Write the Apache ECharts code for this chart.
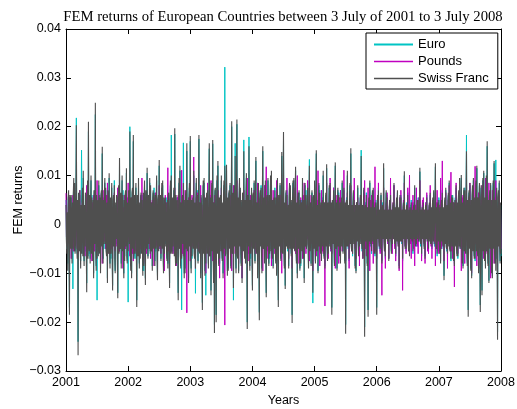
<!DOCTYPE html>
<html><head><meta charset="utf-8">
<script src="https://cdn.jsdelivr.net/npm/echarts@6/dist/echarts.min.js"></script>
<style>html,body{margin:0;padding:0;background:#fff}#c{width:517px;height:409px}</style>
</head><body><div id="c"></div>
<script>
// daily returns in units of 0.0001, 1009 samples spread evenly from 2001 to 2008
const euroBp = [
50,-30,-50,20,-80,50,60,-35,-170,55,40,-45,55,-25,-70,40,-132,60,80,-50,75,-55,-50,65,218,-40,-60,45,-240,60,40,-50,60,-40,-75,35,152,45,65,-60,
95,-45,-75,35,-55,60,55,-50,-120,40,80,-65,190,-35,-60,55,-70,30,90,-55,60,-40,-65,45,-100,65,70,-35,225,-50,-85,55,-155,40,45,-60,80,-40,-55,50,
-90,55,65,-40,145,-55,-70,45,-50,60,85,-35,70,-50,-60,40,-110,65,50,-55,95,-45,-80,50,-70,35,75,-60,-125,45,55,-40,90,-65,-95,40,-40,55,50,-65,
-140,50,70,-55,125,-45,-50,60,-80,35,90,-50,70,-65,-100,45,-65,55,65,-40,105,-60,-75,40,-159,65,55,-35,200,-55,-85,50,-100,60,70,-45,170,-65,-55,55,
-70,45,75,-40,-155,55,50,-60,85,-45,-80,40,-60,50,60,-55,60,-35,-95,60,-95,45,80,-50,-110,65,50,-45,105,-40,-65,55,-50,40,85,-55,70,-45,-50,40,
-85,50,65,-45,75,-35,-75,55,-55,40,90,-60,-105,45,55,-50,120,-40,-50,55,-70,40,75,-45,80,-55,-90,50,-65,35,50,-40,55,-50,-70,45,-80,55,60,-40,
-120,45,80,-55,183,-40,-55,50,-55,35,70,-60,185,-50,-80,55,-75,40,55,-55,-140,50,85,-45,110,-60,-85,40,-175,50,55,-35,167,-50,-100,45,-90,55,65,-45,
150,-50,-50,45,-110,55,75,-40,170,-60,-90,45,-70,35,50,-45,100,-55,-65,40,-141,50,85,-45,70,-35,-75,60,175,-50,-55,40,-100,55,45,-50,-160,45,80,-55,
85,-45,-95,50,-145,40,60,-55,75,-35,-80,45,155,-60,-55,50,-135,55,80,-50,165,-55,-110,40,-205,65,70,-45,-185,50,90,-55,120,-40,-80,50,-80,45,55,-50,
90,-50,-70,40,-100,55,80,-45,322,-60,-55,45,110,-40,-95,50,-90,55,65,-45,80,-50,-85,40,200,-55,-60,60,-155,45,75,-40,166,-50,-90,55,205,-60,-65,50,
-95,50,85,-40,70,-55,-80,45,-110,60,55,-50,173,-40,-65,45,-75,55,95,-50,-200,55,55,-40,179,-60,-85,45,-70,40,70,-50,-125,55,60,-45,85,-40,-75,50,
130,-45,-55,40,-100,50,80,-55,-180,45,65,-40,80,-50,-90,55,150,-45,-50,50,-75,40,80,-55,-140,50,55,-40,90,-45,-80,55,-70,40,90,-50,100,-55,-65,45,
-85,40,50,-45,75,-40,-75,50,-100,45,85,-50,-155,55,45,-40,80,-45,-70,40,140,-50,-55,45,175,-55,-85,40,-125,50,65,-40,70,-45,-55,35,-85,50,80,-45,
75,-40,-60,45,-185,50,85,-45,90,-40,-50,55,110,-45,-75,40,-100,50,60,-45,65,-40,-90,45,-85,35,50,-50,90,-40,-65,45,-110,50,80,-40,70,-45,-45,40,
70,-40,-85,45,133,-50,-50,40,-80,45,65,-35,-161,50,55,-45,85,-40,-75,45,145,-50,-50,35,-95,45,80,-40,70,-45,-55,40,-70,35,55,-40,100,-45,-65,40,
-85,35,60,-40,115,-45,-70,40,-65,35,75,-40,80,-35,-55,40,-170,45,50,-35,75,-40,-80,35,120,-45,-45,40,-90,35,70,-40,65,-35,-60,40,-75,35,50,-40,
85,-35,-55,40,70,-35,-75,40,-205,35,55,-40,100,-35,-50,35,-75,40,80,-35,145,-40,-50,35,-65,40,65,-35,55,-30,-85,35,-95,40,45,-30,75,-35,-60,35,
-50,30,55,-35,152,-30,-55,35,-65,30,70,-35,-210,30,45,-30,65,-35,-80,30,-175,35,50,-30,85,-35,-45,30,-60,35,65,-30,70,-35,-55,30,-65,35,50,-30,
-170,30,55,-25,75,-30,-50,25,-55,30,60,-25,-75,30,45,-25,115,-30,-50,25,-70,30,65,-25,60,-30,-40,25,-70,30,45,-25,65,-30,-55,25,-45,30,40,-25,
80,-25,-45,30,-65,25,50,-30,65,-25,-40,30,-85,25,55,-30,60,-25,-40,25,-75,30,50,-25,100,-30,-45,25,-55,30,45,-25,65,-30,-50,25,-60,30,40,-25,
50,-25,-40,25,-60,30,45,-25,75,-30,-40,25,-45,30,45,-25,55,-30,-35,25,108,-30,-45,25,-65,30,40,-25,50,-30,-45,25,-65,30,45,-25,60,-30,-40,25,
-55,30,40,-30,60,-35,-40,30,-50,35,50,-30,65,-35,-45,30,118,-35,-45,30,-65,35,50,-30,55,-35,-55,30,-75,35,45,-30,70,-35,-50,30,-105,35,50,-35,
70,-40,-55,35,-65,45,60,-40,85,-45,-50,40,-75,45,55,-40,60,-45,-70,40,-80,45,55,-40,75,-45,-60,40,-70,45,65,-40,90,-45,-50,40,95,-45,-75,40,
-85,45,70,-50,75,-45,-55,50,183,-55,-80,45,-175,50,65,-45,80,-50,-90,45,-105,55,75,-50,90,-45,-65,50,-75,45,85,-50,115,-45,-60,50,-95,45,80,-50,
-165,50,75,-45,-135,55,90,-50,105,-45,-70,50,-85,45,95,-50,160,-55,-80,45,-115,50,65,-45,80,-50,-95,45,-105,50,85,-45,125,-50,-75,45,132,-50,-70,45,
-220,50,65,-40,85,-45,-75,40,-65];
const poundsBp = [
64,-25,-30,20,-40,30,50,-25,55,-30,-45,25,-70,30,35,-25,60,-30,-55,25,-35,30,40,-25,45,-30,-50,25,-60,30,30,-25,70,-30,-40,25,-50,30,45,-25,
40,-25,-50,30,-65,25,35,-30,80,-25,-60,30,-45,25,55,-30,55,-25,-35,30,-75,25,45,-30,60,-25,-55,30,-40,25,40,-30,90,-25,-45,30,-55,25,60,-30,
45,-25,-40,30,-80,25,55,-30,70,-25,-35,30,-50,25,60,-30,85,-25,-45,30,-60,25,30,-30,40,-25,-50,30,-70,25,45,-30,65,-25,-55,30,-45,25,35,-30,
75,-25,-40,30,-55,25,60,-30,50,-25,-45,30,-90,25,35,-30,60,-25,-50,30,-40,25,55,-30,85,-25,-35,30,-65,25,45,-30,55,-25,-60,30,-75,25,40,-30,
45,-25,-55,30,-60,25,40,-30,70,-25,-45,30,-50,25,60,-30,95,-25,-35,30,-80,25,50,-30,55,-25,-60,30,-45,25,35,-30,60,-25,-50,30,-70,25,45,-30,
50,-25,-40,30,-85,25,55,-30,65,-25,-45,30,-55,25,40,-30,80,-25,-50,30,-60,25,35,-30,40,-25,-45,30,-95,25,60,-30,45,-25,-35,30,116,-25,-55,30,
-70,25,40,-30,55,-25,-45,30,-60,25,50,-30,75,-25,-35,30,-85,25,55,-30,60,-25,-40,30,-50,25,45,-30,111,-25,-60,30,-65,25,35,-30,70,-25,-50,30,
-181,25,45,-30,55,-25,-40,30,-75,25,50,-30,60,-25,-45,30,138,-25,-35,30,-90,25,55,-30,65,-25,-40,30,-55,25,45,-30,80,-25,-50,30,-70,25,40,-30,
60,-25,-45,30,-100,25,50,-30,85,-25,-35,30,-65,25,60,-30,90,-25,-40,30,-75,25,45,-30,60,-25,-55,30,-80,25,35,-30,70,-25,-45,30,-110,25,50,-30,
75,-25,-40,30,-60,25,55,-30,-206,25,45,-30,85,-25,-50,30,-70,25,35,-30,60,-25,-45,30,-95,25,60,-30,80,-25,-35,30,-60,25,50,-30,90,-25,-45,30,
-80,25,40,-30,65,-25,-50,30,-110,25,55,-30,70,-25,-35,30,-55,25,45,-30,95,-25,-60,30,-75,25,40,-30,60,-25,-45,30,-90,25,50,-30,70,-25,-40,30,
-60,25,45,-30,85,-25,-40,30,-75,25,55,-30,60,-25,-50,30,-95,25,35,-30,80,-25,-45,30,118,-25,-55,30,-70,25,40,-30,55,-25,-35,30,-85,25,50,-30,
70,-25,-45,30,-60,25,40,-30,90,-25,-50,30,-75,25,55,-30,60,-25,-35,30,-100,25,45,-30,80,-25,-60,30,-55,25,40,-30,95,-25,-45,30,-70,25,50,-30,
65,-25,-40,30,-90,25,55,-30,75,-25,-45,30,-60,25,35,-30,100,-25,-50,30,-80,25,40,-30,55,-25,-35,30,-70,25,60,-30,85,-25,-45,30,-60,25,40,-30,
90,-25,-50,30,-75,25,45,-30,60,-25,-40,30,-95,25,55,-30,80,-25,-35,30,-65,25,50,-30,110,-25,-45,30,-85,25,40,-30,70,-25,-55,30,-60,25,45,-30,
-167,25,40,-30,85,-25,-50,30,-70,25,45,-30,95,-25,-55,30,-60,25,35,-30,75,-25,-40,30,-90,25,50,-30,60,-25,-45,30,-80,25,55,-30,70,-25,-35,30,
-55,25,45,-30,111,-25,-40,30,-75,25,50,-30,65,-25,-45,30,-90,25,35,-30,80,-25,-55,30,-60,25,40,-30,95,-25,-50,30,-70,25,45,-30,55,-25,-35,30,
-85,25,45,-30,60,-25,-40,30,-70,25,55,-30,90,-25,-50,30,-65,25,35,-30,75,-25,-45,30,-95,25,50,-30,60,-25,-40,30,-80,25,45,-30,118,-25,-55,30,
-70,25,40,-30,85,-25,-45,30,-60,25,50,-30,-145,25,35,-30,75,-25,-55,30,-90,25,45,-30,65,-25,-40,30,-70,25,50,-30,95,-25,-35,30,-60,25,45,-30,
80,-25,-50,30,-75,25,40,-30,60,-25,-45,30,-95,25,55,-30,70,-25,-35,30,-135,25,50,-30,85,-25,-45,30,-60,25,40,-30,75,-25,-55,30,101,-25,-40,30,
-70,25,45,-30,60,-25,-50,30,-85,25,40,-30,75,-25,-45,30,-60,25,55,-30,90,-25,-35,30,-75,25,50,-30,55,-25,-40,30,-80,25,45,-30,65,-25,-55,30,
-60,25,40,-30,80,-25,-45,30,-70,25,50,-30,55,-25,-35,30,-85,25,45,-30,70,-25,-55,30,-60,25,40,-30,95,-25,-50,30,130,-25,-45,30,-75,25,35,-30,
65,-25,-45,30,-90,25,50,-30,80,-25,-40,30,107,-25,-55,30,-70,25,45,-30,-128,25,35,-30,85,-25,-50,30,-60,25,40,-30,75,-25,-45,30,-95,25,55,-30,
60,-25,-40,30,-80,25,50,-30,95,-25,-45,30,-70,25,55,-30,85,-25,-35,30,-100,25,45,-30,70,-25,-50,30,119,-25,-40,30,-85,25,55,-30,65,-25,-45,30,
-90,25,50,-30,80,-25,-45,30,-70,25,40,-30,95,-25,-55,30,-60,25,45,-30,85,-25,-40,30,-110,25,50,-30,70,-25,-35,30,-80,25,55,-30,90,-25,-45,30,
-75,25,40,-30,60,-25,-50,30,-50];
const swissBp = [
40,-35,-60,25,-95,55,70,-40,-185,60,45,-50,60,-30,-80,45,-50,65,95,-55,85,-60,-40,70,203,-45,-70,50,-268,65,30,-55,70,-45,-90,40,-60,50,75,-65,
110,-50,-85,40,-45,65,60,-55,-139,45,90,-70,210,-40,-55,60,-80,35,100,-60,55,-45,-75,50,-110,70,65,-40,249,-55,-95,60,-70,45,50,-65,90,-45,-60,55,
-100,60,70,-45,159,-60,-80,50,-40,65,95,-40,75,-55,-65,45,-120,70,40,-60,105,-50,-90,55,-60,40,85,-65,-135,50,60,-45,80,-70,-100,45,-30,60,55,-70,
-151,55,80,-60,136,-50,-45,65,-90,40,100,-55,60,-70,-110,50,-75,60,70,-45,115,-65,-80,45,-55,70,60,-40,190,-60,-95,55,-110,65,75,-50,183,-70,-50,60,
-60,50,85,-45,-169,60,55,-65,95,-50,-90,45,-70,55,65,-60,50,-40,-105,65,-85,50,90,-55,-124,70,45,-50,116,-45,-70,60,-40,45,95,-60,80,-50,-55,45,
-95,55,70,-50,65,-40,-85,60,-50,45,100,-65,-114,50,60,-55,132,-45,-40,60,-75,45,85,-50,90,-60,-100,55,-60,40,55,-45,45,-55,-75,50,-90,60,65,-45,
-130,50,90,-60,100,-45,-60,55,-45,40,75,-65,197,-55,-85,60,-80,45,50,-60,-155,55,95,-50,120,-65,-90,45,-70,55,60,-40,85,-55,-110,50,-100,60,70,-50,
166,-55,-45,50,-120,60,85,-45,181,-65,-100,50,-65,40,55,-50,110,-60,-70,45,-90,55,95,-50,60,-40,-80,65,183,-55,-60,45,-110,60,40,-55,-175,50,90,-60,
95,-50,-105,55,-80,45,65,-60,70,-40,-90,50,166,-65,-50,55,-145,60,85,-55,173,-60,-120,45,-222,70,75,-50,-200,55,100,-60,130,-45,-85,55,-70,50,60,-55,
100,-55,-75,45,-110,60,90,-50,120,-65,-60,50,122,-45,-105,55,-95,60,70,-50,85,-55,-90,45,211,-60,-55,65,-130,50,80,-45,140,-55,-100,60,215,-65,-70,55,
-100,55,95,-45,75,-60,-85,50,-120,65,60,-55,150,-45,-70,50,-80,60,105,-55,-214,60,50,-45,160,-65,-95,50,-60,45,75,-55,-135,60,65,-50,90,-45,-80,55,
138,-50,-60,45,-110,55,85,-60,-196,50,70,-45,75,-55,-100,60,160,-50,-45,55,-80,45,90,-60,-149,55,60,-45,95,-50,-85,60,-60,45,100,-55,110,-60,-70,50,
-90,45,55,-50,70,-45,-80,55,-105,50,95,-55,-169,60,40,-45,85,-50,-75,45,148,-55,-60,50,189,-60,-90,45,-132,55,70,-45,60,-50,-50,40,-90,55,85,-50,
80,-45,-65,50,-202,55,90,-50,95,-45,-55,60,118,-50,-80,45,-110,55,65,-50,70,-45,-95,50,-80,40,45,-55,95,-45,-70,50,-120,55,85,-45,60,-50,-40,45,
75,-45,-90,50,120,-55,-55,45,-85,50,70,-40,-140,55,60,-50,90,-45,-80,50,152,-55,-45,40,-100,50,85,-45,65,-50,-60,45,-75,40,50,-45,110,-50,-70,45,
-90,40,65,-45,123,-50,-75,45,-60,40,80,-45,85,-40,-50,45,-185,50,45,-40,70,-45,-85,40,127,-50,-40,45,-95,40,75,-45,60,-40,-65,45,-80,40,55,-45,
90,-40,-60,45,75,-40,-80,45,-224,40,50,-45,110,-40,-45,40,-70,45,85,-40,156,-45,-55,40,-60,45,70,-40,50,-35,-90,40,-100,45,40,-35,80,-40,-65,40,
-45,35,60,-40,140,-35,-50,40,-70,35,75,-40,-230,35,40,-35,60,-40,-85,35,-189,40,55,-35,90,-40,-40,35,-55,40,70,-35,75,-40,-60,35,-60,40,45,-35,
-185,35,60,-30,70,-35,-45,30,-50,35,65,-30,-80,35,40,-30,125,-35,-55,30,-65,35,70,-30,55,-35,-35,30,-75,35,50,-30,60,-35,-60,30,-40,35,45,-30,
85,-30,-40,35,-60,30,55,-35,70,-30,-45,35,-90,30,60,-35,55,-30,-35,30,-70,35,45,-30,109,-35,-50,30,-50,35,40,-30,60,-35,-55,30,-65,35,35,-30,
45,-30,-35,30,-55,35,40,-30,80,-35,-45,30,-40,35,50,-30,50,-35,-30,30,116,-35,-40,30,-60,35,35,-30,45,-35,-50,30,-70,35,40,-30,55,-35,-35,30,
-50,35,45,-35,65,-40,-35,35,-45,40,55,-35,70,-40,-40,35,125,-40,-50,35,-60,40,45,-35,50,-40,-60,35,-80,40,50,-35,65,-40,-45,35,-114,40,55,-40,
75,-45,-50,40,-60,50,65,-45,90,-50,-55,45,-70,50,60,-45,55,-50,-75,45,-85,50,50,-45,80,-50,-65,45,-65,50,70,-45,95,-50,-45,45,101,-50,-80,45,
-90,50,75,-55,70,-50,-60,55,150,-60,-85,50,-189,55,70,-50,85,-55,-95,50,-110,60,80,-55,95,-50,-70,55,-70,50,90,-55,120,-50,-65,55,-100,50,85,-55,
-179,55,80,-50,-145,60,95,-55,110,-50,-75,55,-90,50,100,-55,170,-60,-85,50,-120,55,70,-50,85,-55,-100,50,-110,55,90,-50,130,-55,-80,50,-95,55,75,-50,
-236,55,70,-45,90,-50,-80,45,-60];
const seriesNames = ['Euro','Pounds','Swiss Franc'];
const yearLabels = ['2001','2002','2003','2004','2005','2006','2007','2008'];
const yTickLabels = ['\u22120.03','\u22120.02','\u22120.01','0','0.01','0.02','0.03','0.04'];
const samplesPerYear = 144;
const lastSample = 1008;

const font = '"Liberation Sans", Arial, Helvetica, sans-serif';
function pairs(arr){ return arr.map((v,i)=>[i,v]); }
const xCommon = {type:'value', min:0, max:lastSample, interval:samplesPerYear,
  axisLine:{show:true,onZero:false,lineStyle:{color:'#000',width:1}},
  axisTick:{show:true,inside:true,length:5,lineStyle:{color:'#000'}},
  splitLine:{show:false}};
const yCommon = {type:'value', min:-300, max:400, interval:100,
  axisLine:{show:true,onZero:false,lineStyle:{color:'#000',width:1}},
  axisTick:{show:true,inside:true,length:5,lineStyle:{color:'#000'}},
  splitLine:{show:false}};
const colors = {Euro:'#00c4c4', Pounds:'#c000c0', Swiss:'#4f4f4f'};
const chart = echarts.init(document.getElementById('c'), null, {renderer:'canvas'});
chart.setOption({
  animation:false,
  backgroundColor:'#fff',
  title:{text:'FEM returns of European Countries between 3 July of 2001 to 3 July 2008',
    left:278, top:5, textAlign:'center',
    textStyle:{fontFamily:'"Liberation Serif","DejaVu Serif",serif', fontWeight:'normal', fontSize:14.7, color:'#000'}},
  grid:{left:66, right:16, top:29, bottom:38, containLabel:false, outerBoundsMode:'none'},
  legend:{orient:'vertical', left:366, top:33, itemWidth:39, itemHeight:13, itemGap:4,
    symbolKeepAspect:true,
    padding:[5,9,4,8], borderColor:'#000', borderWidth:1, borderRadius:0, backgroundColor:'#fff',
    textStyle:{fontFamily:font, fontSize:13, lineHeight:13, color:'#000'},
    data:[
      {name:'Euro', icon:'path://M0,0L39,0L39,2L0,2Z'},
      {name:'Pounds', icon:'path://M0,0L39,0L39,1.3L0,1.3Z'},
      {name:'Swiss Franc', icon:'path://M0,0L39,0L39,1.3L0,1.3Z'}
    ]},
  xAxis:[
    Object.assign({}, xCommon, {position:'bottom', name:'Years', nameLocation:'middle', nameGap:23,
      nameMoveOverlap:false,
      nameTextStyle:{fontFamily:font, fontSize:12.5, color:'#000'},
      axisLabel:{show:true, margin:5, fontFamily:font, fontSize:12.5, color:'#000',
        formatter:v=>yearLabels[Math.round(v/samplesPerYear)]}}),
    Object.assign({}, xCommon, {position:'top', axisLabel:{show:false}})
  ],
  yAxis:[
    Object.assign({}, yCommon, {position:'left', name:'FEM returns', nameLocation:'middle', nameGap:41,
      nameMoveOverlap:false,
      nameTextStyle:{fontFamily:font, fontSize:12.5, color:'#000'},
      axisLabel:{show:true, margin:5, fontFamily:font, fontSize:12.5, color:'#000',
        formatter:v=>yTickLabels[Math.round((v+300)/100)]}}),
    Object.assign({}, yCommon, {position:'right', axisLabel:{show:false}})
  ],
  series:[
    {name:'Euro', type:'line', data:pairs(euroBp), symbol:'none', lineStyle:{color:colors.Euro, width:1}, itemStyle:{color:colors.Euro}},
    {name:'Pounds', type:'line', data:pairs(poundsBp), symbol:'none', lineStyle:{color:colors.Pounds, width:1}, itemStyle:{color:colors.Pounds}},
    {name:'Swiss Franc', type:'line', data:pairs(swissBp), symbol:'none', lineStyle:{color:colors.Swiss, width:1.1}, itemStyle:{color:colors.Swiss}}
  ]
});
</script></body></html>
